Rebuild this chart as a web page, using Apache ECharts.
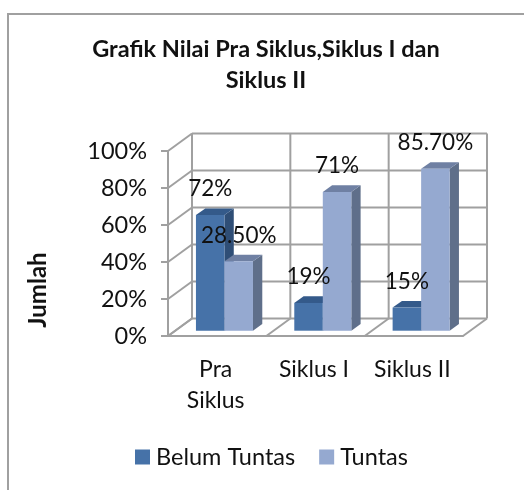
<!DOCTYPE html>
<html>
<head>
<meta charset="utf-8">
<title>Grafik Nilai</title>
<script src="https://cdn.jsdelivr.net/npm/echarts@6/dist/echarts.min.js"></script>
<style>
html, body { margin: 0; padding: 0; background: #fff; }
#chart { width: 524px; height: 490px; }
</style>
</head>
<body>
<div id="chart"></div>
<script>
var categories = ['Pra\nSiklus', 'Siklus I', 'Siklus II'];
var yTicks = [0, 20, 40, 60, 80, 100];
// bar heights as drawn in the picture
var belumValues = [62.5, 15, 12.5];
var tuntasValues = [37.5, 75, 87.5];
// the labels printed on the bars do not equal the heights
var belumLabels = ['72%', '19%', '15%'];
var tuntasLabels = ['28.50%', '71%', '85.70%'];

var FONT = 'Lato, "Open Sans", sans-serif';
var WALL = '#a0a0a0';
var DEPTH_X = 24, DEPTH_Y = -17.5;     // back wall offset
var BAR_X = 7.3, BAR_Y = -5.3;         // front of the bars, inside the floor
var SIDE_X = 9.3, SIDE_Y = -6.7;       // depth of one bar
var BAR_RATIO = 0.29;

function line(x1, y1, x2, y2) {
    return {
        type: 'line',
        silent: true,
        shape: { x1: x1, y1: y1, x2: x2, y2: y2 },
        style: { stroke: WALL, lineWidth: 2 }
    };
}

// side wall and back wall lines for one value tick
function renderTick(params, api) {
    var band = api.size([1, 0])[0];
    var p = api.coord([0, api.value(0)]);
    var left = p[0] - band / 2;
    var right = left + band * categories.length;
    return {
        type: 'group',
        children: [
            line(left, p[1], left + DEPTH_X, p[1] + DEPTH_Y),
            line(left + DEPTH_X, p[1] + DEPTH_Y, right + DEPTH_X, p[1] + DEPTH_Y)
        ]
    };
}

// floor diagonal and back wall vertical for a category boundary
function renderBoundary(params, api) {
    var band = api.size([1, 0])[0];
    var bottom = api.coord([api.value(0), 0]);
    var top = api.coord([api.value(0), 100]);
    var children = [];
    var xs = [bottom[0] - band / 2];
    if (params.dataIndex === categories.length - 1) {
        xs.push(bottom[0] + band / 2);
    }
    for (var i = 0; i < xs.length; i++) {
        children.push(line(xs[i], bottom[1], xs[i] + DEPTH_X, bottom[1] + DEPTH_Y));
        children.push(line(xs[i] + DEPTH_X, bottom[1] + DEPTH_Y, xs[i] + DEPTH_X, top[1] + DEPTH_Y));
    }
    return { type: 'group', children: children };
}

function barRenderer(first, front, top, side) {
    return function (params, api) {
        var band = api.size([1, 0])[0];
        var w = band * BAR_RATIO;
        var base = api.coord([api.value(0), 0]);
        var head = api.coord([api.value(0), api.value(1)]);
        var x0 = base[0] + BAR_X - (first ? w : 0);
        var x1 = x0 + w;
        var y0 = base[1] + BAR_Y;
        var y1 = head[1] + BAR_Y;
        return {
            type: 'group',
            children: [{
                type: 'polygon',
                shape: { points: [[x1, y1], [x1 + SIDE_X, y1 + SIDE_Y], [x1 + SIDE_X, y0 + SIDE_Y], [x1, y0]] },
                style: { fill: side }
            }, {
                type: 'polygon',
                shape: { points: [[x0, y1], [x0 + SIDE_X, y1 + SIDE_Y], [x1 + SIDE_X, y1 + SIDE_Y], [x1, y1]] },
                style: { fill: top }
            }, {
                type: 'rect',
                shape: { x: x0, y: y1, width: w, height: y0 - y1 },
                style: { fill: front }
            }]
        };
    };
}

function labelRenderer(first, texts) {
    return function (params, api) {
        var band = api.size([1, 0])[0];
        var w = band * BAR_RATIO;
        var head = api.coord([api.value(0), api.value(1)]);
        return {
            type: 'text',
            silent: true,
            style: {
                x: head[0] + BAR_X + (first ? -w / 2 : w / 2),
                y: head[1] + BAR_Y - 26,
                text: texts[params.dataIndex],
                textAlign: 'center',
                textVerticalAlign: 'middle',
                fontFamily: FONT,
                fontSize: 22.5,
                fill: '#111'
            }
        };
    };
}

function pairs(values) {
    var out = [];
    for (var i = 0; i < values.length; i++) {
        out.push([i, values[i]]);
    }
    return out;
}

var option = {
    animation: false,
    backgroundColor: '#fff',
    title: {
        text: 'Grafik Nilai Pra Siklus,Siklus I dan\nSiklus II',
        left: 261,
        top: 29,
        textAlign: 'center',
        textStyle: { fontFamily: FONT, fontSize: 23.5, fontWeight: 'bold', color: '#111', lineHeight: 31 }
    },
    legend: {
        left: 135,
        top: 445,
        padding: 0,
        itemWidth: 15,
        itemHeight: 15,
        itemGap: 24,
        icon: 'rect',
        selectedMode: false,
        textStyle: { fontFamily: FONT, fontSize: 23.5, color: '#111', padding: [0, 0, 0, 1] },
        data: ['Belum Tuntas', 'Tuntas']
    },
    grid: { left: 168, right: 61, top: 151, bottom: 154 },
    xAxis: {
        type: 'category',
        data: categories,
        axisLine: { lineStyle: { color: WALL, width: 2 } },
        axisTick: { length: 5, lineStyle: { color: WALL, width: 2 } },
        axisLabel: { fontFamily: FONT, fontSize: 23, color: '#111', lineHeight: 31, margin: 18, interval: 0, padding: [0, 3, 0, 0] }
    },
    yAxis: {
        type: 'value',
        min: 0,
        max: 100,
        interval: 20,
        axisLine: { show: true, lineStyle: { color: WALL, width: 2 } },
        axisTick: { show: true, length: 7, lineStyle: { color: WALL, width: 2 } },
        axisLabel: { fontFamily: FONT, fontSize: 23.5, color: '#111', margin: 21, padding: [4, 0, 0, 0], formatter: '{value}%' },
        splitLine: { show: false }
    },
    graphic: [{
        type: 'polyline',
        silent: true,
        shape: { points: [[524, 14], [8, 14], [8, 490]] },
        style: { stroke: '#a0a0a0', lineWidth: 2, fill: null }
    }, {
        type: 'text',
        silent: true,
        x: 38,
        y: 290,
        rotation: Math.PI / 2,
        style: {
            text: 'Jumlah',
            textAlign: 'center',
            textVerticalAlign: 'middle',
            fontFamily: FONT,
            fontSize: 24,
            fontWeight: 'bold',
            fill: '#111'
        }
    }],
    series: [{
        type: 'custom',
        name: 'ticks',
        silent: true,
        clip: false,
        renderItem: renderTick,
        encode: { y: 0 },
        data: yTicks.map(function (v) { return [v]; }),
        z: 1
    }, {
        type: 'custom',
        name: 'boundaries',
        silent: true,
        clip: false,
        renderItem: renderBoundary,
        encode: { x: 0 },
        data: categories.map(function (c, i) { return [i]; }),
        z: 1
    }, {
        type: 'custom',
        name: 'Belum Tuntas',
        clip: false,
        silent: true,
        itemStyle: { color: '#4672a8' },
        renderItem: barRenderer(true, '#4672a8', '#345a8a', '#2f4e76'),
        encode: { x: 0, y: 1 },
        data: pairs(belumValues),
        z: 3
    }, {
        type: 'custom',
        name: 'Tuntas',
        clip: false,
        silent: true,
        itemStyle: { color: '#95a9d0' },
        renderItem: barRenderer(false, '#95a9d0', '#6f80a3', '#5f6f8a'),
        encode: { x: 0, y: 1 },
        data: pairs(tuntasValues),
        z: 4
    }, {
        type: 'custom',
        name: 'labelBelum',
        clip: false,
        silent: true,
        renderItem: labelRenderer(true, belumLabels),
        encode: { x: 0, y: 1 },
        data: pairs(belumValues),
        z: 5
    }, {
        type: 'custom',
        name: 'labelTuntas',
        clip: false,
        silent: true,
        renderItem: labelRenderer(false, tuntasLabels),
        encode: { x: 0, y: 1 },
        data: pairs(tuntasValues),
        z: 5
    }]
};

var chart = echarts.init(document.getElementById('chart'));
chart.setOption(option);
</script>
</body>
</html>
